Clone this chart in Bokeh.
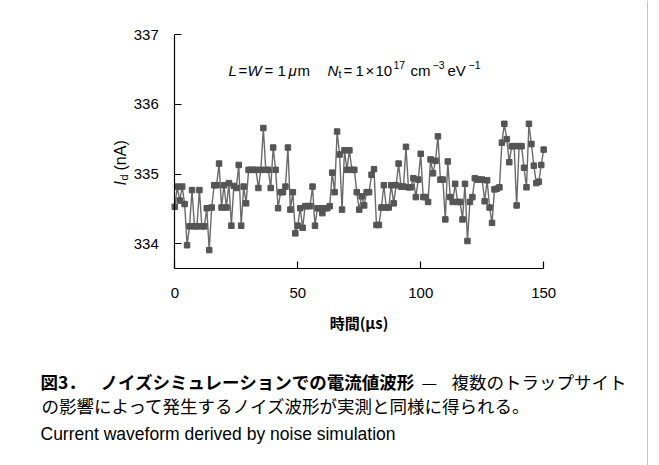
from math import pi
from bokeh.plotting import figure
from bokeh.models import Range1d, FixedTicker, Label, Span
from bokeh.embed import file_html
from bokeh.resources import INLINE

# ---------------- data ----------------
time_us = list(range(151))
current_nA = [
    334.53, 334.82, 334.62, 334.82, 334.57, 333.98, 334.25, 334.77, 334.25, 334.25,
    334.77, 334.25, 334.25, 334.51, 333.91, 334.52, 334.84, 334.84, 335.15, 334.52,
    334.84, 334.52, 334.87, 334.26, 334.83, 334.80, 335.13, 334.26, 334.82, 334.58,
    335.06, 335.06, 335.06, 335.06, 334.80, 335.06, 335.66, 335.06, 335.06, 334.80,
    335.38, 335.06, 334.51, 334.74, 334.74, 334.82, 335.38, 334.49, 334.74, 334.15,
    334.26, 334.51, 334.23, 334.54, 334.54, 334.54, 334.82, 334.26, 334.51, 334.51,
    334.44, 334.51, 334.51, 334.54, 335.02, 334.74, 335.61, 335.28, 334.49, 335.34,
    335.06, 335.34, 335.06, 335.06, 334.74, 334.49, 334.68, 334.55, 334.74, 334.74,
    334.99, 335.07, 334.27, 334.27, 334.52, 334.84, 334.52, 334.52, 334.84, 334.58,
    334.84, 335.15, 334.82, 334.82, 335.39, 334.81, 334.81, 334.94, 334.67, 334.92,
    335.29, 334.67, 334.67, 334.60, 335.21, 335.01, 335.19, 335.54, 334.92, 334.92,
    334.35, 335.18, 334.67, 334.60, 334.86, 334.60, 334.60, 334.35, 334.86, 334.04,
    334.60, 334.67, 334.94, 334.92, 334.92, 334.92, 334.61, 334.91, 334.52, 334.30,
    334.78, 334.79, 334.81, 335.45, 335.72, 335.50, 335.17, 335.40, 335.40, 334.55,
    335.40, 335.40, 335.09, 334.81, 335.72, 335.43, 335.12, 334.87, 334.89, 335.13,
    335.35,
]
x_ticks = [0, 50, 100, 150]
y_ticks = [334, 335, 336, 337]
x_min, x_max = 0, 150
y_min, y_max = 333.646, 337
x_title = "時間(μs)"
caption_fig = "図3．"
caption_bold = "ノイズシミュレーションでの電流値波形"
caption_dash = "—"
caption_rest = "複数のトラップサイト"
caption_line2 = "の影響によって発生するノイズ波形が実測と同様に得られる。"
caption_en = "Current waveform derived by noise simulation"

TXT_FONT = "Liberation Sans"
JP_FONT = "Noto Sans CJK JP"

# ---------------- geometry (one frame covering the whole canvas) ----------------
W, H = 659, 465
PX0, PXS = 174.3, 2.4593      # pixel of t=0, pixels per microsecond
PY0, PYS = 34.0, 69.77        # pixel of 337 nA, pixels per nA

XA, XB = -PX0 / PXS, (W - PX0) / PXS
YB, YA = y_max + PY0 / PYS, y_max - (H - PY0) / PYS

p = figure(width=W, height=H, x_range=Range1d(XA, XB), y_range=Range1d(YA, YB),
           output_backend="svg", toolbar_location=None, min_border=0)
p.xgrid.visible = False
p.ygrid.visible = False
p.outline_line_color = None
p.background_fill_color = "white"
p.border_fill_color = "white"

for ax in (p.xaxis, p.yaxis):
    ax.axis_line_color = "black"
    ax.axis_line_width = 1.2
    ax.major_tick_line_color = "black"
    ax.major_tick_line_width = 1.2
    ax.major_tick_in = 7
    ax.major_tick_out = 0
    ax.minor_tick_in = 0
    ax.minor_tick_out = 0
    ax.major_label_text_font = TXT_FONT
    ax.major_label_text_font_size = "15px"
    ax.major_label_text_color = "black"

p.xaxis.ticker = FixedTicker(ticks=x_ticks)
p.xaxis.fixed_location = y_min
p.xaxis.bounds = (x_min, x_max)
p.xaxis.major_label_standoff = 19
p.xaxis.axis_label = x_title
p.xaxis.axis_label_text_font = JP_FONT
p.xaxis.axis_label_text_font_style = "bold"
p.xaxis.axis_label_text_font_size = "15px"
p.xaxis.axis_label_standoff = 11
p.xaxis.axis_label_text_color = "black"

p.yaxis.ticker = FixedTicker(ticks=y_ticks)
p.yaxis.fixed_location = x_min
p.yaxis.bounds = (y_min, y_max)
p.yaxis.major_label_standoff = 16

p.line(time_us, current_nA, line_color="#6a6a6a", line_width=1.4)
p.scatter(time_us, current_nA, marker="square", size=5.5,
          fill_color="#555555", line_color="#555555")


def dx(px):
    return (px - PX0) / PXS


def dy(py):
    return y_max - (py - PY0) / PYS


def lab(px, py, text, size="15px", style="normal", font=TXT_FONT, angle=0,
        align="left", baseline="alphabetic"):
    p.add_layout(Label(x=dx(px), y=dy(py), text=text, text_font=font,
                       text_font_size=size, text_font_style=style,
                       text_align=align, text_baseline=baseline,
                       angle=angle, text_color="black"))


# parameter annotation
b = 70
lab(228, b, "L", style="italic")
lab(238, b, "=")
lab(247, b, "W", style="italic")
lab(264, b, "=")
lab(277, b, "1")
lab(288, b, "μ", style="italic")
lab(297, b, "m")
lab(327, b, "N", style="italic")
lab(338, b + 3, "t", size="10.5px")
lab(343, b, "=")
lab(355, b, "1")
lab(365, b, "×")
lab(375, b, "10")
lab(393, b - 6, "17", size="10.5px")
lab(410, b, "cm")
lab(432, b - 6, "−3", size="10.5px")
lab(447, b, "eV")
lab(468, b - 6, "−1", size="10.5px")

# y axis title (rotated)
lab(120, 185, "I", size="16px", style="italic", angle=pi / 2)
lab(123, 180, "d", size="11px", angle=pi / 2)
lab(120, 170, "(nA)", size="16px", angle=pi / 2)

# caption
lab(40, 381, caption_fig, size="17.5px", style="bold", font=JP_FONT, baseline="middle")
lab(100, 381, caption_bold, size="17.5px", style="bold", font=JP_FONT, baseline="middle")
lab(421, 381, caption_dash, size="17.5px", font=JP_FONT, baseline="middle")
lab(451, 381, caption_rest, size="17.5px", font=JP_FONT, baseline="middle")
lab(41, 405, caption_line2, size="17.5px", font=JP_FONT, baseline="middle")
lab(40, 433, caption_en, size="17.5px", font=TXT_FONT, baseline="middle")

p.add_layout(Span(location=dx(647), dimension="height", line_color="#c4c4c4", line_width=1))

open("out.html", "w").write(file_html(p, INLINE))
